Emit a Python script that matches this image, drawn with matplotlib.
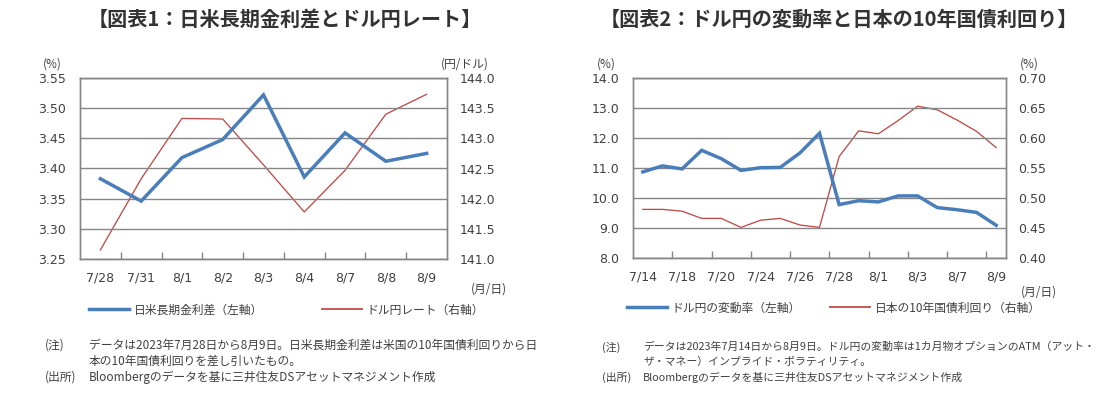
"""日米金利差・ドル円の2枚組チャート（matplotlib）。"""

import matplotlib
matplotlib.use("Agg")
import matplotlib.pyplot as plt
import matplotlib.ticker as mticker
from matplotlib.lines import Line2D

plt.rcParams["font.family"] = ["Noto Sans CJK JP", "DejaVu Sans"]

W, H = 1118, 397
BLUE = "#4A7EBB"
RED = "#BE4B48"
GRAY = "#868686"
TEXT = "#404040"

# 図表1：日米長期金利差とドル円レート
dates1 = ["7/28", "7/31", "8/1", "8/2", "8/3", "8/4", "8/7", "8/8", "8/9"]
spread1 = [3.383, 3.346, 3.418, 3.448, 3.522, 3.386, 3.459, 3.412, 3.425]
usdjpy1 = [141.15, 142.33, 143.33, 143.32, 142.56, 141.78, 142.47, 143.40, 143.73]

# 図表2：ドル円の変動率と日本の10年国債利回り
dates2 = ["7/14", "7/17", "7/18", "7/19", "7/20", "7/21", "7/24", "7/25", "7/26",
          "7/27", "7/28", "7/31", "8/1", "8/2", "8/3", "8/4", "8/7", "8/8", "8/9"]
vol2 = [10.87, 11.07, 10.97, 11.59, 11.31, 10.92, 11.01, 11.02, 11.50,
        12.16, 9.78, 9.91, 9.87, 10.07, 10.07, 9.68, 9.61, 9.52, 9.09]
jgb2 = [0.481, 0.481, 0.478, 0.466, 0.466, 0.451, 0.463, 0.466, 0.455,
        0.451, 0.569, 0.612, 0.607, 0.629, 0.653, 0.647, 0.630, 0.611, 0.584]


def px(x, y):
    """ピクセル座標を図座標に変換する。"""
    return x / W, 1 - y / H


def _panel(fig, rect, dates, left, right, llim, lstep, lfmt, rlim, rstep, rfmt, every):
    ax = fig.add_axes(rect)
    ax2 = ax.twinx()
    n = len(dates)
    x = list(range(n))

    ax.plot(x, left, color=BLUE, linewidth=2.5, solid_joinstyle="miter", zorder=4)
    ax2.plot(x, right, color=RED, linewidth=0.95, zorder=3)
    ax.set_zorder(ax2.get_zorder() + 1)
    ax.patch.set_visible(False)

    ax.set_xlim(-0.5, n - 0.5)
    ax.set_ylim(*llim)
    ax2.set_ylim(*rlim)
    ax.yaxis.set_major_locator(mticker.MultipleLocator(lstep))
    ax2.yaxis.set_major_locator(mticker.MultipleLocator(rstep))
    ax.yaxis.set_major_formatter(mticker.FormatStrFormatter(lfmt))
    ax2.yaxis.set_major_formatter(mticker.FormatStrFormatter(rfmt))

    ax.set_xticks(x[::every])
    ax.set_xticklabels(dates[::every])
    ax.set_xticks([i + 0.5 for i in range(every - 1, n - 1, every)], minor=True)
    ax.tick_params(axis="x", which="major", length=0, pad=9, labelsize=9,
                   labelcolor=TEXT, labelfontfamily="DejaVu Sans")
    ax.tick_params(axis="x", which="minor", direction="in", length=5, width=1, color=GRAY)
    ax.tick_params(axis="y", length=0, pad=10, labelsize=9, labelcolor=TEXT,
                   labelfontfamily="DejaVu Sans")
    ax2.tick_params(axis="y", length=0, pad=9, labelsize=9, labelcolor=TEXT,
                    labelfontfamily="DejaVu Sans")

    ax.grid(True, axis="y", color=GRAY, linewidth=1.0)
    ax.set_axisbelow(True)
    for a in (ax, ax2):
        for s in a.spines.values():
            s.set_color(GRAY)
            s.set_linewidth(1.0)
    return ax, ax2


def _legend(fig, color, lw, label, x, y):
    h = Line2D([], [], color=color, linewidth=lw)
    fig.legend([h], [label], loc="center left", bbox_to_anchor=px(x, y),
               frameon=False, fontsize=8.5, handlelength=3.4, handletextpad=0.4,
               borderpad=0, borderaxespad=0, labelcolor=TEXT)


def _notes(fig, x0, x1, ys, lines, size):
    # (注) と (出所) の注記
    fig.text(*px(x0, ys[0]), "(注)", va="center", fontsize=size, color=TEXT)
    fig.text(*px(x1, ys[0]), lines[0], va="center", fontsize=size, color=TEXT)
    fig.text(*px(x1, ys[1]), lines[1], va="center", fontsize=size, color=TEXT)
    fig.text(*px(x0, ys[2]), "(出所)", va="center", fontsize=size, color=TEXT)
    fig.text(*px(x1, ys[2]), lines[2], va="center", fontsize=size, color=TEXT)


fig = plt.figure(figsize=(W / 100, H / 100), dpi=100)

# 図表1
_panel(fig, [80 / W, 1 - 259 / H, 367 / W, 181 / H], dates1, spread1, usdjpy1,
       (3.25, 3.55), 0.05, "%.2f", (141.0, 144.0), 0.5, "%.1f", 1)
fig.text(*px(285, 19), "【図表1：日米長期金利差とドル円レート】", ha="center", va="center",
         fontsize=14.5, fontweight="bold", color="#333333")
fig.text(*px(52, 64), "(%)", ha="center", va="center", fontsize=8.5, color=TEXT)
fig.text(*px(465, 64), "(円/ドル)", ha="center", va="center", fontsize=8.5, color=TEXT)
fig.text(*px(489, 289), "(月/日)", ha="center", va="center", fontsize=8.5, color=TEXT)
_legend(fig, BLUE, 2.5, "日米長期金利差（左軸）", 89, 310)
_legend(fig, RED, 1.3, "ドル円レート（右軸）", 322, 310)
_notes(fig, 45, 89, (345, 361, 377), [
    "データは2023年7月28日から8月9日。日米長期金利差は米国の10年国債利回りから日",
    "本の10年国債利回りを差し引いたもの。",
    "Bloombergのデータを基に三井住友DSアセットマネジメント作成",
], 8.5)

# 図表2
_panel(fig, [633 / W, 1 - 258 / H, 373 / W, 180 / H], dates2, vol2, jgb2,
       (8.0, 14.0), 1.0, "%.1f", (0.40, 0.70), 0.05, "%.2f", 2)
fig.text(*px(839, 19), "【図表2：ドル円の変動率と日本の10年国債利回り】", ha="center", va="center",
         fontsize=14.5, fontweight="bold", color="#333333")
fig.text(*px(606, 64), "(%)", ha="center", va="center", fontsize=8.5, color=TEXT)
fig.text(*px(1029, 64), "(%)", ha="center", va="center", fontsize=8.5, color=TEXT)
fig.text(*px(1039, 292), "(月/日)", ha="center", va="center", fontsize=8.5, color=TEXT)
_legend(fig, BLUE, 2.5, "ドル円の変動率（左軸）", 627, 308)
_legend(fig, RED, 1.3, "日本の10年国債利回り（右軸）", 830, 308)
_notes(fig, 602, 643, (347, 362, 377), [
    "データは2023年7月14日から8月9日。ドル円の変動率は1カ月物オプションのATM（アット・",
    "ザ・マネー）インプライド・ボラティリティ。",
    "Bloombergのデータを基に三井住友DSアセットマネジメント作成",
], 7.8)

fig.savefig("out.png", dpi=100)
plt.close(fig)
